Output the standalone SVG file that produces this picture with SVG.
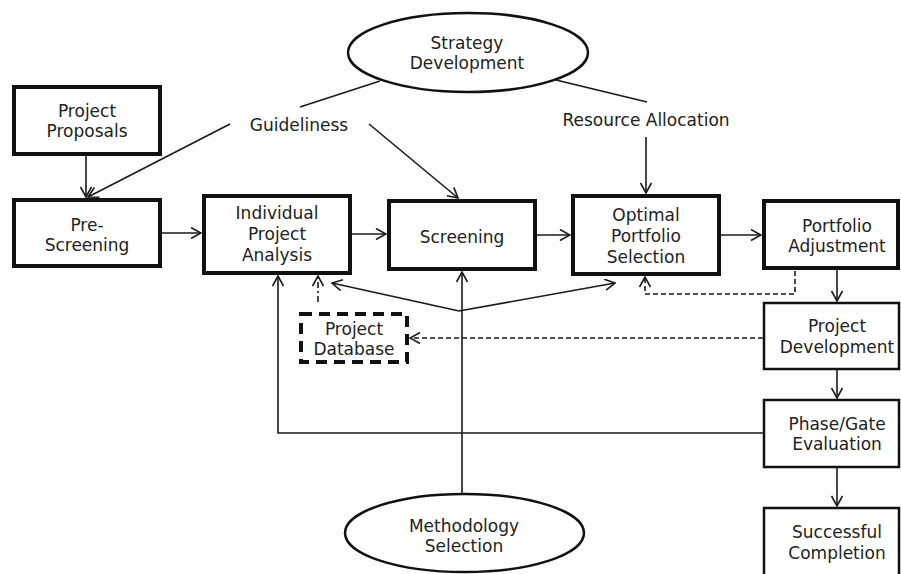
<svg xmlns="http://www.w3.org/2000/svg" width="901" height="574" viewBox="0 0 901 574">
<defs>
<style>
.bg{fill:#fdfdfd}
.thick{fill:#fff;stroke:#111;stroke-width:4}
.thin{fill:#fff;stroke:#111;stroke-width:2.5}
.ell{fill:#fff;stroke:#111;stroke-width:2.5}
.db{fill:#fff;stroke:#111;stroke-width:4;stroke-dasharray:11 7}
.t{font-family:"DejaVu Sans","Verdana",sans-serif;font-size:17px;fill:#222;text-anchor:middle}
.c{fill:none;stroke:#1a1a1a;stroke-width:1.6}
.d{fill:none;stroke:#1a1a1a;stroke-width:1.6;stroke-dasharray:5 3}
.dd{fill:none;stroke:#1a1a1a;stroke-width:1.6;stroke-dasharray:6 3 2 3}
</style>
<marker id="ar" viewBox="0 0 12 12" refX="11" refY="6" markerWidth="12" markerHeight="12" markerUnits="userSpaceOnUse" orient="auto">
<path d="M1,0.5 L11,6 L1,11.5" fill="none" stroke="#1a1a1a" stroke-width="1.6"/>
</marker>
</defs>
<rect class="bg" x="0" y="0" width="901" height="574"/>

<g id="connectors">
<path class="c" d="M380,81 L300,107"/>
<path class="c" d="M556,80 L647,102"/>
<path class="c" d="M86,156 L86,197" marker-end="url(#ar)"/>
<path class="c" d="M230,124 L88,197" marker-end="url(#ar)"/>
<path class="c" d="M369,124 L458,198" marker-end="url(#ar)"/>
<path class="c" d="M646,137 L646,193" marker-end="url(#ar)"/>
<path class="c" d="M162,233 L201,233" marker-end="url(#ar)"/>
<path class="c" d="M352,234 L386,234" marker-end="url(#ar)"/>
<path class="c" d="M537,235 L570,235" marker-end="url(#ar)"/>
<path class="c" d="M721,235 L761,235" marker-end="url(#ar)"/>
<path class="c" d="M837,270 L837,301" marker-end="url(#ar)"/>
<path class="c" d="M837,370 L837,398" marker-end="url(#ar)"/>
<path class="c" d="M837,468 L837,506" marker-end="url(#ar)"/>
<path class="c" d="M763,433 L278,433 L278,276" marker-end="url(#ar)"/>
<path class="c" d="M462,494 L462,272" marker-end="url(#ar)"/>
<path class="c" d="M459,311 L332,283" marker-end="url(#ar)"/>
<path class="c" d="M459,311 L615,283" marker-end="url(#ar)"/>
<path class="d" d="M795,271 L795,294 L645,294 L645,277" marker-end="url(#ar)"/>
<path class="d" d="M763,338 L410,338" marker-end="url(#ar)"/>
<path class="dd" d="M318,302 L318,276" marker-end="url(#ar)"/>
</g>

<g id="strategy-development">
<ellipse class="ell" cx="468" cy="52.5" rx="120" ry="39.5"/>
<text class="t" x="467" y="49">Strategy</text>
<text class="t" x="467" y="69">Development</text>
</g>

<g id="guideliness">
<text class="t" x="299" y="131">Guideliness</text>
</g>

<g id="resource-allocation">
<text class="t" x="646" y="126">Resource Allocation</text>
</g>

<g id="project-proposals">
<rect class="thick" x="14" y="87" width="146" height="67"/>
<text class="t" x="87" y="117">Project</text>
<text class="t" x="87" y="137">Proposals</text>
</g>

<g id="pre-screening">
<rect class="thick" x="14" y="200" width="146" height="66"/>
<text class="t" x="87" y="231">Pre-</text>
<text class="t" x="87" y="251">Screening</text>
</g>

<g id="individual-project-analysis">
<rect class="thick" x="204" y="196" width="146" height="77"/>
<text class="t" x="277" y="219">Individual</text>
<text class="t" x="277" y="240">Project</text>
<text class="t" x="277" y="261">Analysis</text>
</g>

<g id="screening">
<rect class="thick" x="389" y="201" width="146" height="68"/>
<text class="t" x="462" y="243">Screening</text>
</g>

<g id="optimal-portfolio-selection">
<rect class="thick" x="573" y="196" width="146" height="78"/>
<text class="t" x="646" y="221">Optimal</text>
<text class="t" x="646" y="242">Portfolio</text>
<text class="t" x="646" y="263">Selection</text>
</g>

<g id="portfolio-adjustment">
<rect class="thick" x="764" y="201" width="134" height="67"/>
<text class="t" x="837" y="232">Portfolio</text>
<text class="t" x="837" y="252">Adjustment</text>
</g>

<g id="project-database">
<rect class="db" x="301" y="314" width="106" height="48"/>
<text class="t" x="354" y="335">Project</text>
<text class="t" x="354" y="355">Database</text>
</g>

<g id="project-development">
<rect class="thin" x="764" y="303" width="135" height="66"/>
<text class="t" x="837" y="332">Project</text>
<text class="t" x="837" y="353">Development</text>
</g>

<g id="phase-gate-evaluation">
<rect class="thin" x="764" y="400" width="135" height="67"/>
<text class="t" x="837" y="430">Phase/Gate</text>
<text class="t" x="837" y="450">Evaluation</text>
</g>

<g id="successful-completion">
<rect class="thin" x="764" y="508" width="135" height="80"/>
<text class="t" x="837" y="538">Successful</text>
<text class="t" x="837" y="559">Completion</text>
</g>

<g id="methodology-selection">
<ellipse class="ell" cx="464.5" cy="533" rx="119.5" ry="39"/>
<text class="t" x="464" y="532">Methodology</text>
<text class="t" x="464" y="552">Selection</text>
</g>
</svg>
